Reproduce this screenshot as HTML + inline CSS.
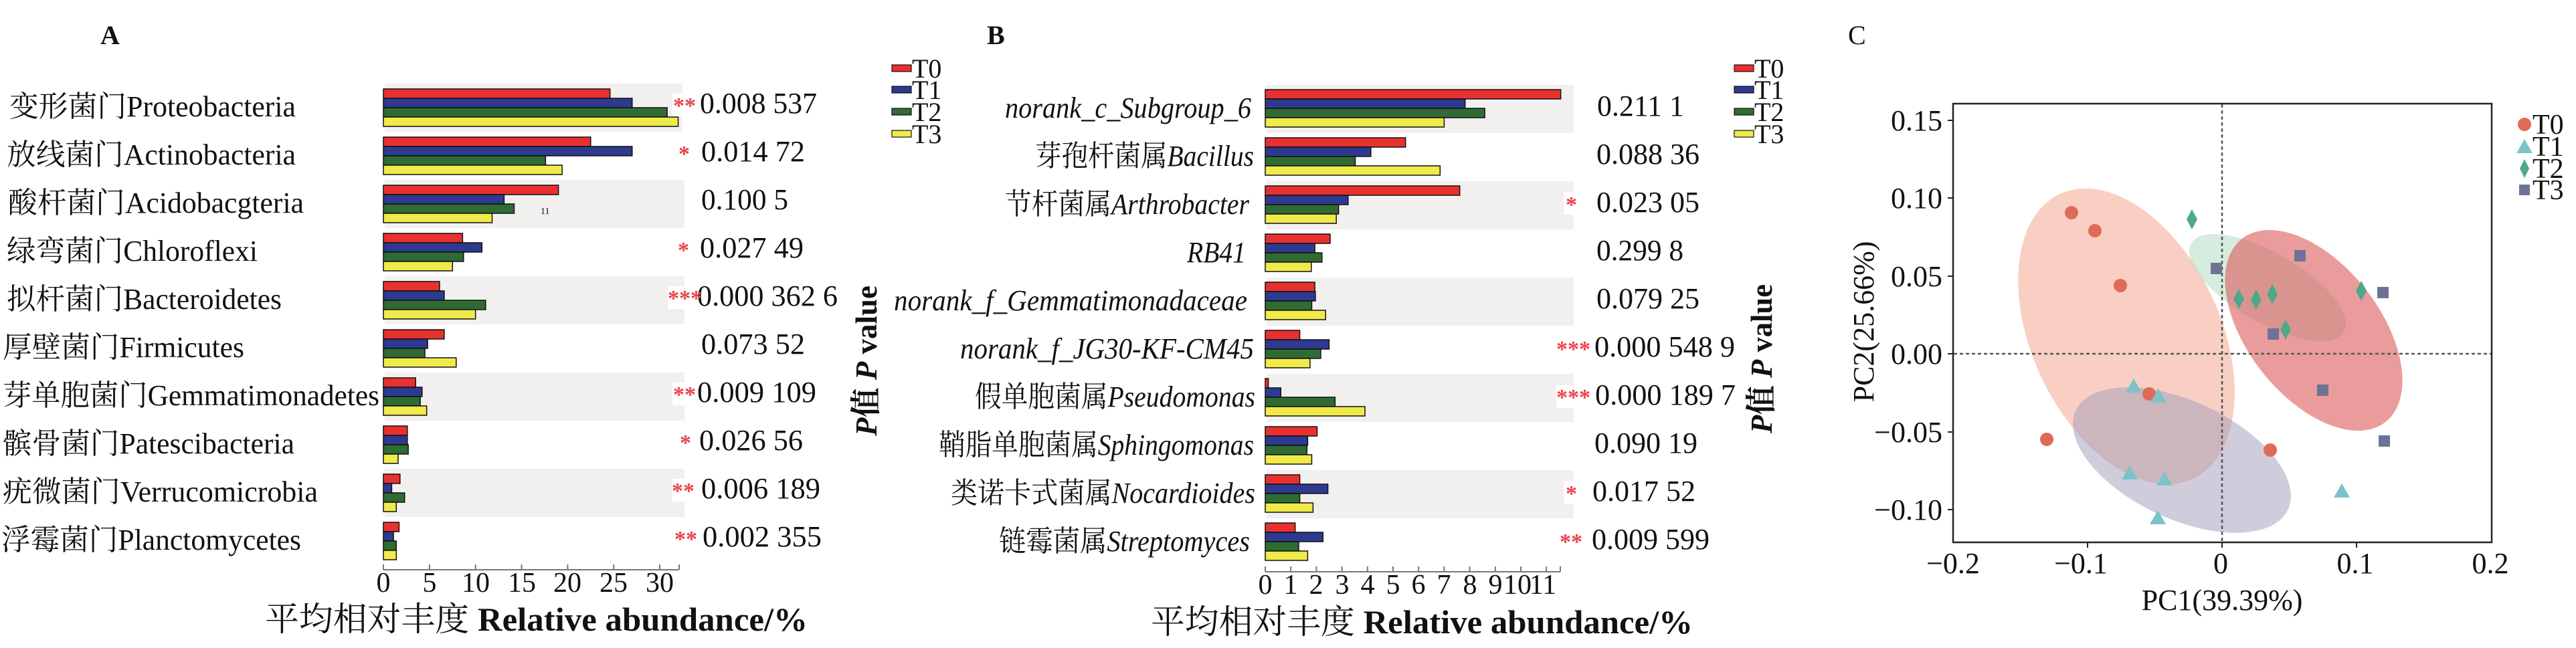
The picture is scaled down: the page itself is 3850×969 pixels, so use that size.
<!DOCTYPE html>
<html><head><meta charset="utf-8"><style>
html,body{margin:0;padding:0;background:#fff;}
svg{display:block;}
text{font-family:"Liberation Serif","Noto Serif CJK SC","Noto Sans CJK SC",serif;fill:#111;}
.st{fill:#e8434b;font-weight:bold;}
</style></head><body>
<svg width="3850" height="969" viewBox="0 0 3850 969" xmlns="http://www.w3.org/2000/svg">
<text x="150" y="66" font-size="40" font-weight="bold">A</text>
<text x="1475" y="66" font-size="40" font-weight="bold">B</text>
<text x="2762" y="66" font-size="40">C</text>

<!-- ===== Panel A ===== -->
<g>
<rect x="575" y="125" width="445" height="72" fill="#f2f0ee"/>
<rect x="575" y="269" width="448" height="72" fill="#f2f0ee"/>
<rect x="575" y="413" width="448" height="72" fill="#f2f0ee"/>
<rect x="575" y="557" width="448" height="72" fill="#f2f0ee"/>
<rect x="575" y="701" width="448" height="72" fill="#f2f0ee"/>
</g>
<g stroke="#111" stroke-width="1.5">
<rect x="573" y="133" width="338.7" height="14" fill="#e8312f"/><rect x="573" y="147" width="371.8" height="14" fill="#2e3a8f"/><rect x="573" y="161" width="424.1" height="14" fill="#2f6b32"/><rect x="573" y="175" width="440.6" height="14" fill="#f0ea4a"/>
<rect x="573" y="205" width="309.8" height="14" fill="#e8312f"/><rect x="573" y="219" width="371.8" height="14" fill="#2e3a8f"/><rect x="573" y="233" width="242.4" height="14" fill="#2f6b32"/><rect x="573" y="247" width="267.1" height="14" fill="#f0ea4a"/>
<rect x="573" y="277" width="261.6" height="14" fill="#e8312f"/><rect x="573" y="291" width="180.4" height="14" fill="#2e3a8f"/><rect x="573" y="305" width="195.5" height="14" fill="#2f6b32"/><rect x="573" y="319" width="162.5" height="14" fill="#f0ea4a"/>
<rect x="573" y="349" width="118.4" height="14" fill="#e8312f"/><rect x="573" y="363" width="147.3" height="14" fill="#2e3a8f"/><rect x="573" y="377" width="119.8" height="14" fill="#2f6b32"/><rect x="573" y="391" width="103.3" height="14" fill="#f0ea4a"/>
<rect x="573" y="421" width="84" height="14" fill="#e8312f"/><rect x="573" y="435" width="90.9" height="14" fill="#2e3a8f"/><rect x="573" y="449" width="152.8" height="14" fill="#2f6b32"/><rect x="573" y="463" width="137.7" height="14" fill="#f0ea4a"/>
<rect x="573" y="493" width="90.9" height="14" fill="#e8312f"/><rect x="573" y="507" width="66.1" height="14" fill="#2e3a8f"/><rect x="573" y="521" width="62" height="14" fill="#2f6b32"/><rect x="573" y="535" width="108.8" height="14" fill="#f0ea4a"/>
<rect x="573" y="565" width="48.2" height="14" fill="#e8312f"/><rect x="573" y="579" width="57.8" height="14" fill="#2e3a8f"/><rect x="573" y="593" width="55.1" height="14" fill="#2f6b32"/><rect x="573" y="607" width="64.7" height="14" fill="#f0ea4a"/>
<rect x="573" y="637" width="35.8" height="14" fill="#e8312f"/><rect x="573" y="651" width="35.8" height="14" fill="#2e3a8f"/><rect x="573" y="665" width="37.2" height="14" fill="#2f6b32"/><rect x="573" y="679" width="22" height="14" fill="#f0ea4a"/>
<rect x="573" y="709" width="24.8" height="14" fill="#e8312f"/><rect x="573" y="723" width="12.4" height="14" fill="#2e3a8f"/><rect x="573" y="737" width="31.7" height="14" fill="#2f6b32"/><rect x="573" y="751" width="19.3" height="14" fill="#f0ea4a"/>
<rect x="573" y="781" width="23.4" height="14" fill="#e8312f"/><rect x="573" y="795" width="15.1" height="14" fill="#2e3a8f"/><rect x="573" y="809" width="19.3" height="14" fill="#2f6b32"/><rect x="573" y="823" width="19.3" height="14" fill="#f0ea4a"/>
</g>
<text x="808" y="320" font-size="14">11</text>
<g stroke="#777" stroke-width="2">
<line x1="573" y1="852" x2="1015" y2="852"/>
<line x1="573" y1="844" x2="573" y2="852"/><line x1="641.9" y1="844" x2="641.9" y2="852"/><line x1="710.7" y1="844" x2="710.7" y2="852"/><line x1="779.6" y1="844" x2="779.6" y2="852"/><line x1="848.4" y1="844" x2="848.4" y2="852"/><line x1="917.3" y1="844" x2="917.3" y2="852"/><line x1="986.1" y1="844" x2="986.1" y2="852"/><line x1="1015" y1="844" x2="1015" y2="852"/>
</g>
<g font-size="42" text-anchor="middle">
<text x="573" y="885">0</text><text x="642" y="885">5</text><text x="711" y="885">10</text><text x="780" y="885">15</text><text x="848" y="885">20</text><text x="917" y="885">25</text><text x="986" y="885">30</text>
</g>
<text x="396" y="943" font-size="50" textLength="811" lengthAdjust="spacingAndGlyphs">平均相对丰度  <tspan font-weight="bold">Relative abundance/%</tspan></text>
<g font-size="44">
<text x="14" y="174" textLength="428" lengthAdjust="spacingAndGlyphs">变形菌门Proteobacteria</text>
<text x="10" y="246" textLength="432" lengthAdjust="spacingAndGlyphs">放线菌门Actinobacteria</text>
<text x="12" y="318" textLength="442" lengthAdjust="spacingAndGlyphs">酸杆菌门Acidobacgteria</text>
<text x="10" y="390" textLength="375" lengthAdjust="spacingAndGlyphs">绿弯菌门Chloroflexi</text>
<text x="10" y="462" textLength="411" lengthAdjust="spacingAndGlyphs">拟杆菌门Bacteroidetes</text>
<text x="4" y="534" textLength="361" lengthAdjust="spacingAndGlyphs">厚壁菌门Firmicutes</text>
<text x="4" y="606" textLength="563" lengthAdjust="spacingAndGlyphs">芽单胞菌门Gemmatimonadetes</text>
<text x="4" y="678" textLength="436" lengthAdjust="spacingAndGlyphs">髌骨菌门Patescibacteria</text>
<text x="4" y="750" textLength="471" lengthAdjust="spacingAndGlyphs">疣微菌门Verrucomicrobia</text>
<text x="2" y="822" textLength="448" lengthAdjust="spacingAndGlyphs">浮霉菌门Planctomycetes</text>
</g>
<g font-size="44">
<text x="1046" y="169" textLength="175" lengthAdjust="spacingAndGlyphs">0.008 537</text>
<text x="1048" y="241" textLength="155" lengthAdjust="spacingAndGlyphs">0.014 72</text>
<text x="1048" y="313" textLength="130" lengthAdjust="spacingAndGlyphs">0.100 5</text>
<text x="1046" y="385" textLength="155" lengthAdjust="spacingAndGlyphs">0.027 49</text>
<text x="1042" y="457" textLength="210" lengthAdjust="spacingAndGlyphs">0.000 362 6</text>
<text x="1048" y="529" textLength="155" lengthAdjust="spacingAndGlyphs">0.073 52</text>
<text x="1042" y="601" textLength="178" lengthAdjust="spacingAndGlyphs">0.009 109</text>
<text x="1045" y="673" textLength="155" lengthAdjust="spacingAndGlyphs">0.026 56</text>
<text x="1048" y="745" textLength="178" lengthAdjust="spacingAndGlyphs">0.006 189</text>
<text x="1050" y="817" textLength="178" lengthAdjust="spacingAndGlyphs">0.002 355</text>
</g>
<g font-size="34">
<rect x="1005" y="140" width="38" height="34" fill="#fff"/><text class="st" x="1006" y="169">**</text>
<text class="st" x="1014" y="241">*</text>
<text class="st" x="1013" y="385">*</text>
<rect x="998" y="428" width="44" height="34" fill="#fff"/><text class="st" x="998" y="457">***</text>
<rect x="1005" y="572" width="36" height="34" fill="#fff"/><text class="st" x="1006" y="601">**</text>
<text class="st" x="1016" y="673">*</text>
<rect x="1004" y="716" width="36" height="34" fill="#fff"/><text class="st" x="1004" y="745">**</text>
<text class="st" x="1008" y="817">**</text>
</g>
<text transform="translate(1310,652) rotate(-90)" font-size="46" font-weight="bold" textLength="225" lengthAdjust="spacingAndGlyphs"><tspan font-style="italic">P</tspan>值  <tspan font-style="italic">P</tspan> value</text>

<g stroke="#111" stroke-width="1.2">
<rect x="1333" y="97" width="29" height="10" fill="#e8312f"/>
<rect x="1333" y="129" width="29" height="10" fill="#2e3a8f"/>
<rect x="1333" y="162" width="29" height="10" fill="#2f6b32"/>
<rect x="1333" y="195" width="29" height="10" fill="#f0ea4a"/>
</g>
<g font-size="40">
<text x="1363" y="116">T0</text><text x="1363" y="148">T1</text><text x="1363" y="181">T2</text><text x="1363" y="214">T3</text>
</g>

<!-- ===== Panel B ===== -->
<g>
<rect x="1893" y="127" width="459" height="72" fill="#f2f0ee"/>
<rect x="1893" y="271" width="459" height="72" fill="#f2f0ee"/>
<rect x="1893" y="415" width="459" height="72" fill="#f2f0ee"/>
<rect x="1893" y="559" width="459" height="72" fill="#f2f0ee"/>
<rect x="1893" y="703" width="459" height="72" fill="#f2f0ee"/>
</g>
<g stroke="#111" stroke-width="1.5">
<rect x="1891" y="134" width="441.6" height="14" fill="#e8312f"/><rect x="1891" y="148" width="298.7" height="14" fill="#2e3a8f"/><rect x="1891" y="162" width="328.1" height="14" fill="#2f6b32"/><rect x="1891" y="176" width="267.4" height="14" fill="#f0ea4a"/>
<rect x="1891" y="206" width="209.7" height="14" fill="#e8312f"/><rect x="1891" y="220" width="157.8" height="14" fill="#2e3a8f"/><rect x="1891" y="234" width="134.5" height="14" fill="#2f6b32"/><rect x="1891" y="248" width="261.3" height="14" fill="#f0ea4a"/>
<rect x="1891" y="278" width="290.7" height="14" fill="#e8312f"/><rect x="1891" y="292" width="123.8" height="14" fill="#2e3a8f"/><rect x="1891" y="306" width="109.6" height="14" fill="#2f6b32"/><rect x="1891" y="320" width="106.2" height="14" fill="#f0ea4a"/>
<rect x="1891" y="350" width="97" height="14" fill="#e8312f"/><rect x="1891" y="364" width="74.1" height="14" fill="#2e3a8f"/><rect x="1891" y="378" width="84.8" height="14" fill="#2f6b32"/><rect x="1891" y="392" width="68.8" height="14" fill="#f0ea4a"/>
<rect x="1891" y="422" width="74.1" height="14" fill="#e8312f"/><rect x="1891" y="436" width="74.9" height="14" fill="#2e3a8f"/><rect x="1891" y="450" width="69.5" height="14" fill="#2f6b32"/><rect x="1891" y="464" width="90.2" height="14" fill="#f0ea4a"/>
<rect x="1891" y="494" width="51.6" height="14" fill="#e8312f"/><rect x="1891" y="508" width="95.5" height="14" fill="#2e3a8f"/><rect x="1891" y="522" width="82.9" height="14" fill="#2f6b32"/><rect x="1891" y="536" width="66.9" height="14" fill="#f0ea4a"/>
<rect x="1891" y="566" width="4.6" height="14" fill="#e8312f"/><rect x="1891" y="580" width="23.3" height="14" fill="#2e3a8f"/><rect x="1891" y="594" width="104.3" height="14" fill="#2f6b32"/><rect x="1891" y="608" width="149" height="14" fill="#f0ea4a"/>
<rect x="1891" y="638" width="77.5" height="14" fill="#e8312f"/><rect x="1891" y="652" width="63.4" height="14" fill="#2e3a8f"/><rect x="1891" y="666" width="62.3" height="14" fill="#2f6b32"/><rect x="1891" y="680" width="69.5" height="14" fill="#f0ea4a"/>
<rect x="1891" y="710" width="51.6" height="14" fill="#e8312f"/><rect x="1891" y="724" width="93.6" height="14" fill="#2e3a8f"/><rect x="1891" y="738" width="51.6" height="14" fill="#2f6b32"/><rect x="1891" y="752" width="71.4" height="14" fill="#f0ea4a"/>
<rect x="1891" y="782" width="44.7" height="14" fill="#e8312f"/><rect x="1891" y="796" width="86.3" height="14" fill="#2e3a8f"/><rect x="1891" y="810" width="50" height="14" fill="#2f6b32"/><rect x="1891" y="824" width="63.4" height="14" fill="#f0ea4a"/>
</g>
<g stroke="#777" stroke-width="2">
<line x1="1891" y1="855" x2="2332" y2="855"/>
<line x1="1891" y1="847" x2="1891" y2="855"/><line x1="1929.2" y1="847" x2="1929.2" y2="855"/><line x1="1967.4" y1="847" x2="1967.4" y2="855"/><line x1="2005.6" y1="847" x2="2005.6" y2="855"/><line x1="2043.8" y1="847" x2="2043.8" y2="855"/><line x1="2082" y1="847" x2="2082" y2="855"/><line x1="2120.2" y1="847" x2="2120.2" y2="855"/><line x1="2158.4" y1="847" x2="2158.4" y2="855"/><line x1="2196.6" y1="847" x2="2196.6" y2="855"/><line x1="2234.8" y1="847" x2="2234.8" y2="855"/><line x1="2273" y1="847" x2="2273" y2="855"/><line x1="2311.2" y1="847" x2="2311.2" y2="855"/><line x1="2332" y1="847" x2="2332" y2="855"/>
</g>
<g font-size="42" text-anchor="middle">
<text x="1891" y="888">0</text><text x="1929" y="888">1</text><text x="1967" y="888">2</text><text x="2006" y="888">3</text><text x="2044" y="888">4</text><text x="2082" y="888">5</text><text x="2120" y="888">6</text><text x="2158" y="888">7</text><text x="2197" y="888">8</text><text x="2235" y="888">9</text><text x="2268" y="888">10</text><text x="2306" y="888">11</text>
</g>
<text x="1720" y="947" font-size="50" textLength="810" lengthAdjust="spacingAndGlyphs">平均相对丰度  <tspan font-weight="bold">Relative abundance/%</tspan></text>
<g font-size="44" text-anchor="end" font-style="italic">
<text x="1870" y="176" textLength="368" lengthAdjust="spacingAndGlyphs">norank_c_Subgroup_6</text>
<text x="1874" y="248" textLength="327" lengthAdjust="spacingAndGlyphs"><tspan font-style="normal">芽孢杆菌属</tspan>Bacillus</text>
<text x="1867" y="320" textLength="365" lengthAdjust="spacingAndGlyphs"><tspan font-style="normal">节杆菌属</tspan>Arthrobacter</text>
<text x="1862" y="392" textLength="88" lengthAdjust="spacingAndGlyphs">RB41</text>
<text x="1864" y="464" textLength="528" lengthAdjust="spacingAndGlyphs">norank_f_Gemmatimonadaceae</text>
<text x="1874" y="536" textLength="439" lengthAdjust="spacingAndGlyphs">norank_f_JG30-KF-CM45</text>
<text x="1876" y="608" textLength="419" lengthAdjust="spacingAndGlyphs"><tspan font-style="normal">假单胞菌属</tspan>Pseudomonas</text>
<text x="1874" y="680" textLength="471" lengthAdjust="spacingAndGlyphs"><tspan font-style="normal">鞘脂单胞菌属</tspan>Sphingomonas</text>
<text x="1876" y="752" textLength="455" lengthAdjust="spacingAndGlyphs"><tspan font-style="normal">类诺卡式菌属</tspan>Nocardioides</text>
<text x="1868" y="824" textLength="375" lengthAdjust="spacingAndGlyphs"><tspan font-style="normal">链霉菌属</tspan>Streptomyces</text>
</g>
<g font-size="44">
<text x="2387" y="173" textLength="130" lengthAdjust="spacingAndGlyphs">0.211 1</text>
<text x="2386" y="245" textLength="154" lengthAdjust="spacingAndGlyphs">0.088 36</text>
<text x="2386" y="317" textLength="154" lengthAdjust="spacingAndGlyphs">0.023 05</text>
<text x="2386" y="389" textLength="130" lengthAdjust="spacingAndGlyphs">0.299 8</text>
<text x="2386" y="461" textLength="154" lengthAdjust="spacingAndGlyphs">0.079 25</text>
<text x="2383" y="533" textLength="210" lengthAdjust="spacingAndGlyphs">0.000 548 9</text>
<text x="2384" y="605" textLength="210" lengthAdjust="spacingAndGlyphs">0.000 189 7</text>
<text x="2383" y="677" textLength="154" lengthAdjust="spacingAndGlyphs">0.090 19</text>
<text x="2380" y="749" textLength="154" lengthAdjust="spacingAndGlyphs">0.017 52</text>
<text x="2379" y="821" textLength="176" lengthAdjust="spacingAndGlyphs">0.009 599</text>
</g>
<g font-size="34">
<rect x="2337" y="287" width="24" height="34" fill="#fff"/><text class="st" x="2340" y="317">*</text>
<text class="st" x="2326" y="533">***</text>
<rect x="2326" y="576" width="44" height="34" fill="#fff"/><text class="st" x="2326" y="605">***</text>
<rect x="2337" y="719" width="24" height="34" fill="#fff"/><text class="st" x="2340" y="749">*</text>
<text class="st" x="2331" y="821">**</text>
</g>
<text transform="translate(2648,648) rotate(-90)" font-size="46" font-weight="bold" textLength="223" lengthAdjust="spacingAndGlyphs"><tspan font-style="italic">P</tspan>值  <tspan font-style="italic">P</tspan> value</text>
<g stroke="#111" stroke-width="1.2">
<rect x="2592" y="97" width="29" height="10" fill="#e8312f"/>
<rect x="2592" y="129" width="29" height="10" fill="#2e3a8f"/>
<rect x="2592" y="162" width="29" height="10" fill="#2f6b32"/>
<rect x="2592" y="195" width="29" height="10" fill="#f0ea4a"/>
</g>
<g font-size="40">
<text x="2622" y="116">T0</text><text x="2622" y="148">T1</text><text x="2622" y="181">T2</text><text x="2622" y="214">T3</text>
</g>

<!-- ===== Panel C ===== -->
<g>
<ellipse cx="3178" cy="503" rx="235" ry="141" transform="rotate(65 3178 503)" fill="#f3a88f" fill-opacity="0.55"/>
<ellipse cx="3261" cy="688" rx="175" ry="88" transform="rotate(25 3261 688)" fill="#9f9bb8" fill-opacity="0.5"/>
<ellipse cx="3389" cy="430" rx="132" ry="52" transform="rotate(30 3389 430)" fill="#b2dcc3" fill-opacity="0.55"/>
<ellipse cx="3458" cy="494" rx="174" ry="99" transform="rotate(52 3458 494)" fill="#dc5a5a" fill-opacity="0.6"/>
</g>
<g stroke="#555" stroke-width="2.5" stroke-dasharray="5,4">
<line x1="3321" y1="156" x2="3321" y2="810"/>
<line x1="2920" y1="529" x2="3723" y2="529"/>
</g>
<rect x="2919" y="155" width="805" height="656" fill="none" stroke="#222" stroke-width="2.5"/>
<g stroke="#222" stroke-width="2">
<line x1="2911" y1="180" x2="2919" y2="180"/><line x1="2911" y1="296" x2="2919" y2="296"/><line x1="2911" y1="413" x2="2919" y2="413"/><line x1="2911" y1="529" x2="2919" y2="529"/><line x1="2911" y1="646" x2="2919" y2="646"/><line x1="2911" y1="762" x2="2919" y2="762"/>
<line x1="3120" y1="811" x2="3120" y2="819"/><line x1="3321" y1="811" x2="3321" y2="819"/><line x1="3522" y1="811" x2="3522" y2="819"/>
</g>
<g font-size="44" text-anchor="end">
<text x="2903" y="195">0.15</text><text x="2903" y="311">0.10</text><text x="2903" y="428">0.05</text><text x="2903" y="544">0.00</text><text x="2903" y="661">−0.05</text><text x="2903" y="777">−0.10</text>
</g>
<g font-size="44" text-anchor="middle">
<text x="2919" y="857">−0.2</text><text x="3110" y="857">−0.1</text><text x="3319" y="857">0</text><text x="3520" y="857">0.1</text><text x="3722" y="857">0.2</text>
</g>
<text x="3321" y="912" font-size="44" text-anchor="middle">PC1(39.39%)</text>
<text transform="translate(2800,481) rotate(-90)" font-size="44" text-anchor="middle">PC2(25.66%)</text>
<g fill="#e06a5a">
<circle cx="3096" cy="318" r="10"/><circle cx="3131" cy="345" r="10"/><circle cx="3169" cy="427" r="10"/><circle cx="3212" cy="589" r="10"/><circle cx="3059" cy="657" r="10"/><circle cx="3393" cy="673" r="10"/>
</g>
<g fill="#7cc3c8">
<polygon points="3189,566 3177,587 3201,587"/><polygon points="3226,581 3214,602 3238,602"/><polygon points="3183,696 3171,717 3195,717"/><polygon points="3235,705 3223,726 3247,726"/><polygon points="3225,763 3213,784 3237,784"/><polygon points="3500,723 3488,744 3512,744"/>
</g>
<g fill="#4ea88a">
<polygon points="3276,313 3284,328 3276,343 3268,328"/><polygon points="3346,432 3354,447 3346,462 3338,447"/><polygon points="3372,433 3380,448 3372,463 3364,448"/><polygon points="3396,425 3404,440 3396,455 3388,440"/><polygon points="3416,478 3424,493 3416,508 3408,493"/><polygon points="3529,420 3537,435 3529,450 3521,435"/>
</g>
<g fill="#6e7396">
<rect x="3304" y="393" width="17" height="17"/><rect x="3429" y="374" width="17" height="17"/><rect x="3389" y="491" width="17" height="17"/><rect x="3553" y="429" width="17" height="17"/><rect x="3463" y="575" width="17" height="17"/><rect x="3555" y="651" width="17" height="17"/>
</g>
<circle cx="3773" cy="186" r="10" fill="#e06a5a"/>
<polygon points="3773,208 3761,229 3785,229" fill="#7cc3c8"/>
<polygon points="3773,238 3780,252 3773,266 3766,252" fill="#4ea88a"/>
<rect x="3765" y="276" width="16" height="16" fill="#6e7396"/>
<g font-size="42">
<text x="3785" y="200">T0</text><text x="3785" y="233">T1</text><text x="3785" y="266">T2</text><text x="3785" y="298">T3</text>
</g>
</svg>
</body></html>
